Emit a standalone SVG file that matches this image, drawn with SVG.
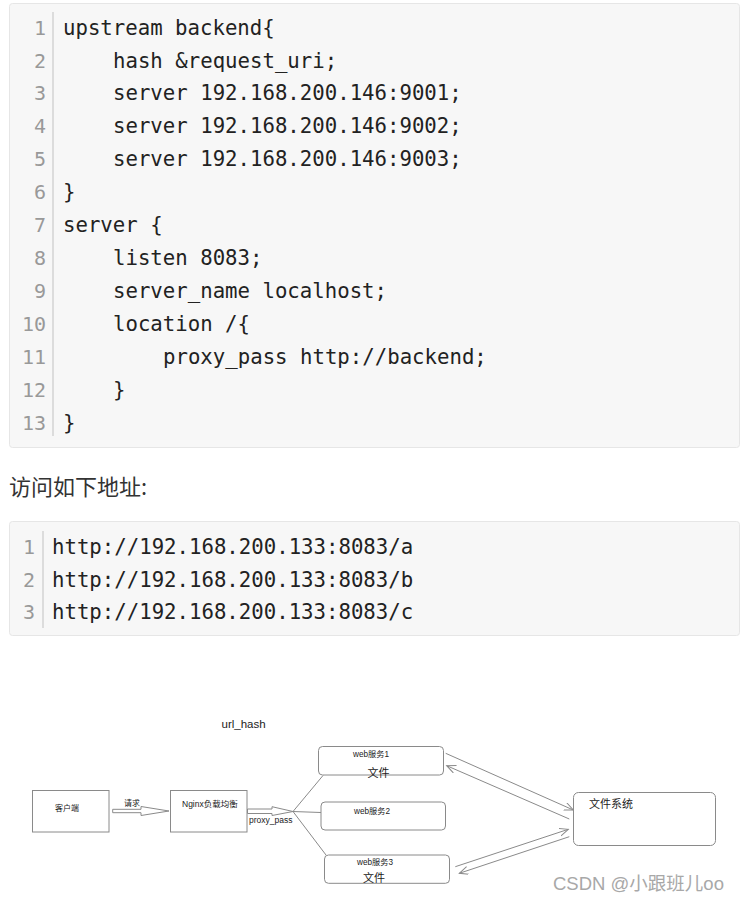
<svg xmlns="http://www.w3.org/2000/svg" width="741" height="902" viewBox="0 0 741 902">
<style>
.bg{fill:#f7f7f7;stroke:#e6e6e6;stroke-width:1}
.gut{stroke:#dcdcdc;stroke-width:2}
.code{font-family:"DejaVu Sans Mono","Liberation Mono",monospace;font-size:20.7px;fill:#222}
.ln{font-family:"DejaVu Sans Mono","Liberation Mono",monospace;font-size:20px;fill:#999;text-anchor:end}
.para{font-family:"Noto Sans CJK SC","Noto Sans",sans-serif;font-size:22px;fill:#333}
.box{fill:#fff;stroke:#8a8a8a;stroke-width:1}
.t{font-family:"Liberation Sans","Noto Sans CJK SC",sans-serif;fill:#222}
.edge{stroke:#8a8a8a;stroke-width:1;fill:none}
.wm{font-family:"Liberation Sans","Noto Sans CJK SC",sans-serif;font-size:18.5px;fill:#a8a8a8}
</style>
<defs>
<marker id="open" markerUnits="userSpaceOnUse" markerWidth="12" markerHeight="12" refX="9" refY="4" orient="auto">
<path d="M0,0 L9,4 L0,8" fill="none" stroke="#8a8a8a" stroke-width="1"/>
</marker>
</defs>
<rect x="0" y="0" width="741" height="902" fill="#fff"/>

<g id="code-block-1">
<rect class="bg" x="9.5" y="3.5" width="730" height="444" rx="3"/>
<line class="gut" x1="53" y1="12" x2="53" y2="436"/>
<g class="ln">
<text x="46" y="34.5">1</text><text x="46" y="67.5">2</text><text x="46" y="100.4">3</text><text x="46" y="133.4">4</text><text x="46" y="166.3">5</text><text x="46" y="199.3">6</text><text x="46" y="232.2">7</text><text x="46" y="265.2">8</text><text x="46" y="298.1">9</text><text x="46" y="331.1">10</text><text x="46" y="364">11</text><text x="46" y="397">12</text><text x="46" y="430">13</text>
</g>
<g class="code">
<text x="63" y="34.5">upstream backend{</text>
<text x="113" y="67.5">hash &amp;request_uri;</text>
<text x="113" y="100.4">server 192.168.200.146:9001;</text>
<text x="113" y="133.4">server 192.168.200.146:9002;</text>
<text x="113" y="166.3">server 192.168.200.146:9003;</text>
<text x="63" y="199.3">}</text>
<text x="63" y="232.2">server {</text>
<text x="113" y="265.2">listen 8083;</text>
<text x="113" y="298.1">server_name localhost;</text>
<text x="113" y="331.1">location /{</text>
<text x="163" y="364">proxy_pass http://backend;</text>
<text x="113" y="397">}</text>
<text x="63" y="430">}</text>
</g>
</g>

<text class="para" x="9" y="495">访问如下地址:</text>

<g id="code-block-2">
<rect class="bg" x="9.5" y="521.5" width="730" height="114" rx="3"/>
<line class="gut" x1="43" y1="531" x2="43" y2="628"/>
<g class="ln">
<text x="35" y="553.5">1</text><text x="35" y="586.5">2</text><text x="35" y="619">3</text>
</g>
<g class="code">
<text x="52" y="553.5">http://192.168.200.133:8083/a</text>
<text x="52" y="586.5">http://192.168.200.133:8083/b</text>
<text x="52" y="619">http://192.168.200.133:8083/c</text>
</g>
</g>

<text class="t" x="221.5" y="728" font-size="11.5">url_hash</text>

<g id="connectors">
<polygon class="box" points="112.7,809.3 141,809.3 141,806.5 169,811 141,815.5 141,812.7 112.7,812.7"/>
<text class="t" x="124" y="806" font-size="8">请求</text>
<polygon class="box" points="247.5,809 272,809 272,806.7 293,811.5 272,815.5 272,813.5 247.5,813.5"/>
<text class="t" x="249" y="822.5" font-size="8.5">proxy_pass</text>
<line class="edge" x1="293" y1="811.5" x2="323" y2="775.5"/>
<line class="edge" x1="293" y1="811.5" x2="321" y2="812.5"/>
<line class="edge" x1="293" y1="811.5" x2="326" y2="855"/>
<line class="edge" x1="445.7" y1="753.3" x2="573.3" y2="810" marker-end="url(#open)"/>
<line class="edge" x1="569.3" y1="819" x2="446.7" y2="765.7" marker-end="url(#open)"/>
<line class="edge" x1="455.3" y1="866.7" x2="568.3" y2="829.3" marker-end="url(#open)"/>
<line class="edge" x1="569.3" y1="836.7" x2="459.3" y2="873.3" marker-end="url(#open)"/>
</g>

<g id="client">
<rect class="box" x="32.5" y="790.5" width="76.5" height="41.5"/>
<text class="t" x="55" y="811" font-size="8">客户端</text>
</g>
<g id="nginx">
<rect class="box" x="170.5" y="790.5" width="76.5" height="41.5"/>
<text class="t" x="182" y="807" font-size="8.5">Nginx负载均衡</text>
</g>
<g id="web1">
<rect class="box" x="318.5" y="746.5" width="125" height="28.5" rx="4"/>
<text class="t" x="353" y="757" font-size="8.2">web服务1</text>
<text class="t" x="367.5" y="777" font-size="11">文件</text>
</g>
<g id="web2">
<rect class="box" x="321" y="802" width="124.5" height="28" rx="4"/>
<text class="t" x="354" y="814" font-size="8.2">web服务2</text>
</g>
<g id="web3">
<rect class="box" x="324.5" y="855" width="125" height="28.3" rx="4"/>
<text class="t" x="357" y="865" font-size="8.2">web服务3</text>
<text class="t" x="363" y="881.5" font-size="11">文件</text>
</g>
<g id="filesystem">
<rect class="box" x="573.5" y="792.5" width="142" height="53" rx="5"/>
<text class="t" x="589" y="807.5" font-size="11">文件系统</text>
</g>

<text class="wm" x="553" y="890">CSDN @小跟班儿oo</text>
</svg>
